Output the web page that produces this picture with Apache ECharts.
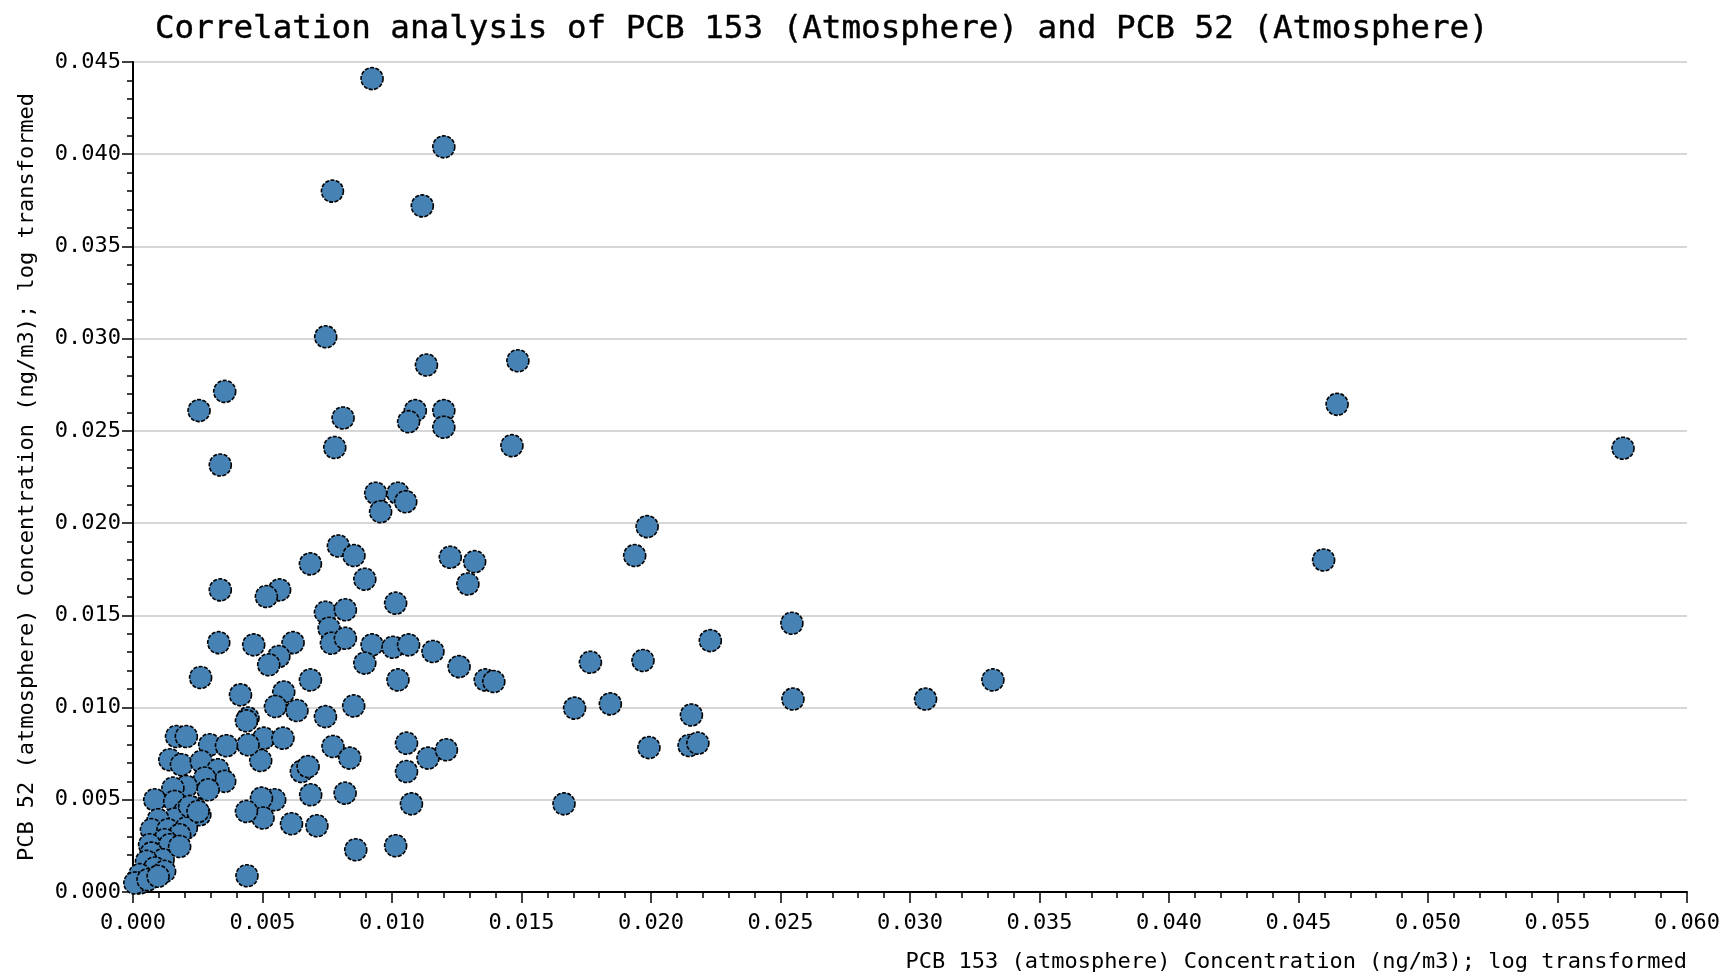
<!DOCTYPE html>
<html>
<head>
<meta charset="utf-8">
<script src="https://cdn.jsdelivr.net/npm/echarts@6/dist/echarts.min.js"></script>
<style>
html,body{margin:0;padding:0;background:#fff;}
#chart{width:1725px;height:977px;}
</style>
</head>
<body>
<div id="chart"></div>
<script>
// PCB 153 (atmosphere) concentration values (x)
const pcb153 = [
 0.00923,0.0120,0.0077,0.01117,0.00744,0.01133,0.01486,0.00354,0.00255,0.00811,
 0.0109,0.01064,0.0120,0.0120,0.00779,0.01463,0.00337,0.04649,0.05753,0.04597,
 0.00937,0.01023,0.01053,0.00956,0.00793,0.00853,0.00685,0.00895,0.01225,0.01319,
 0.01293,0.00337,0.00566,0.00515,0.01014,0.00743,0.0082,0.00757,0.00766,0.0082,
 0.00331,0.00466,0.00618,0.00923,0.01004,0.01064,0.01158,0.00563,0.00524,0.00895,
 0.01259,0.0136,0.01393,0.00261,0.00685,0.01023,0.00415,0.00582,0.0055,0.00633,
 0.00444,0.00438,0.00743,0.00852,
 0.01985,0.01937,0.02544,0.02229,0.01766,0.01969,0.01705,0.01843,0.02156,0.02548,
 0.0306,0.0332,0.01992,0.02147,0.02181,0.01664,
 0.01056,0.01139,0.0121,0.01056,0.01075,0.01014,0.0086,0.00772,0.00837,0.0065,
 0.00676,0.00819,0.00686,0.0071,0.00612,0.00547,0.00496,0.00502,0.00438,0.0044,
 0.00493,0.00505,0.00579,0.00444,
 0.00168,0.00206,0.00296,0.00361,0.00142,0.00187,0.00264,0.00328,0.00354,0.00277,
 0.0029,0.00206,0.00154,0.00084,0.00161,0.00238,0.00258,0.002,0.00161,0.00097,
 0.00071,0.00135,0.00206,0.0018,0.00122,0.00064,0.00142,0.00071,0.00116,0.00052,
 0.00084,0.00122,0.00026,0.00026,0.00007,0.00058,0.00097,0.0018,0.00219,0.00251
];
// PCB 52 (atmosphere) concentration values (y)
const pcb52 = [
 0.0441,0.0404,0.0380,0.0372,0.0301,0.02857,0.0288,0.02714,0.0261,0.0257,
 0.0261,0.0255,0.0261,0.0252,0.0241,0.0242,0.02315,0.02644,0.02406,0.0180,
 0.02162,0.02162,0.02116,0.02062,0.01876,0.01824,0.01779,0.01696,0.01815,0.01791,
 0.0167,0.01638,0.01638,0.01602,0.01566,0.01517,0.0153,0.0143,0.01349,0.01376,
 0.01352,0.0134,0.01352,0.0134,0.01327,0.0134,0.01304,0.01277,0.01232,0.01241,
 0.01222,0.0115,0.01141,0.01163,0.0115,0.0115,0.01069,0.01084,0.01006,0.00984,
 0.00943,0.00928,0.00951,0.01009,
 0.01981,0.01824,0.01457,0.01363,0.01246,0.01255,0.00997,0.0102,0.0096,0.01046,
 0.01046,0.0115,0.00783,0.00794,0.00807,0.00478,
 0.00807,0.00726,0.00771,0.00653,0.00478,0.00251,0.00229,0.00789,0.00726,0.00653,
 0.0068,0.00536,0.00527,0.00359,0.0037,0.005,0.00509,0.00401,0.00437,0.00088,
 0.00713,0.00834,0.00834,0.00798,
 0.00843,0.00843,0.00798,0.00793,0.00717,0.0069,0.00708,0.00663,0.006,0.00618,
 0.00554,0.00572,0.00563,0.005,0.00491,0.00455,0.00419,0.00437,0.00396,0.00392,
 0.00338,0.00338,0.00347,0.0031,0.00283,0.00256,0.00256,0.00211,0.00175,0.00166,
 0.0013,0.00112,0.00094,0.00049,0.00049,0.00067,0.00085,0.00247,0.00464,0.00437
];
const titleText = 'Correlation analysis of PCB 153 (Atmosphere) and PCB 52 (Atmosphere)';
const xName = 'PCB 153 (atmosphere) Concentration (ng/m3); log transformed';
const yName = 'PCB 52 (atmosphere) Concentration (ng/m3); log transformed';

const points = pcb153.map((x, i) => [x, pcb52[i]]);
const FONT = '"DejaVu Sans Mono", monospace';

const chart = echarts.init(document.getElementById('chart'), null, {renderer: 'canvas'});
chart.setOption({
  animation: false,
  backgroundColor: '#ffffff',
  title: {
    text: titleText,
    left: 150,
    top: 8,
    textStyle: {fontFamily: FONT, fontSize: 32.6, fontWeight: 'normal', color: '#000', textBorderColor: '#000', textBorderWidth: 0.4}
  },
  grid: {left: 133, right: 38, top: 62, bottom: 85, containLabel: false},
  xAxis: {
    type: 'value', min: 0, max: 0.06, interval: 0.005,
    name: xName,
    nameLocation: 'end',
    nameGap: 0,
    nameTextStyle: {fontFamily: FONT, fontSize: 22, color: '#000', align: 'right', verticalAlign: 'top', padding: [59, 0, 0, 0]},
    axisLine: {show: true, lineStyle: {color: '#000', width: 2}},
    axisTick: {show: true, length: 11, lineStyle: {color: '#000', width: 1.5}},
    minorTick: {show: true, splitNumber: 5, length: 6, lineStyle: {color: '#000', width: 1.5}},
    axisLabel: {margin: 20, fontFamily: FONT, fontSize: 22, color: '#000', formatter: v => v.toFixed(3)},
    splitLine: {show: false}
  },
  yAxis: {
    type: 'value', min: 0, max: 0.045, interval: 0.005,
    name: yName,
    nameLocation: 'middle',
    nameGap: 95,
    nameTextStyle: {fontFamily: FONT, fontSize: 22, color: '#000'},
    axisLine: {show: true, lineStyle: {color: '#000', width: 2}},
    axisTick: {show: true, length: 11, lineStyle: {color: '#000', width: 1.5}},
    minorTick: {show: true, splitNumber: 5, length: 6, lineStyle: {color: '#000', width: 1.5}},
    axisLabel: {margin: 12, fontFamily: FONT, fontSize: 22, color: '#000', formatter: v => v.toFixed(3)},
    splitLine: {show: true, lineStyle: {color: '#c8c8c8', width: 1.5}}
  },
  series: [{
    type: 'scatter',
    data: points,
    symbol: 'circle',
    symbolSize: 22,
    itemStyle: {color: '#4682b4', borderColor: '#000', borderWidth: 1.6, borderType: [4, 1.5], opacity: 1}
  }]
});
</script>
</body>
</html>
